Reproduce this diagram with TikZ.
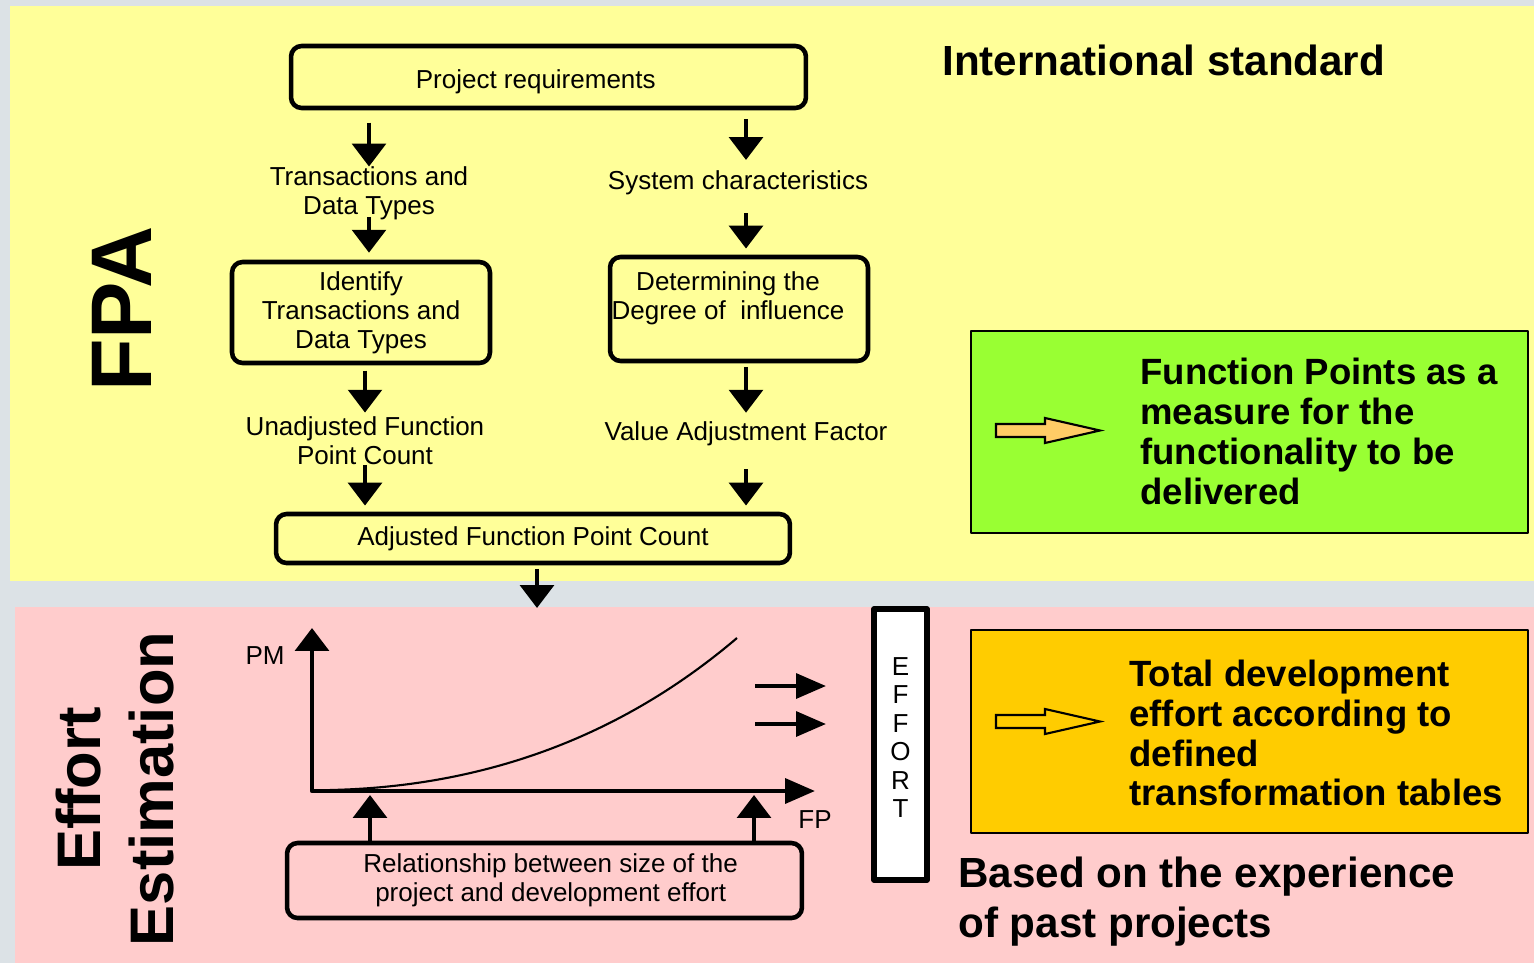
\documentclass[tikz,border=0pt]{standalone}
\usepackage{fontspec}
\setmainfont{Liberation Sans}
\usetikzlibrary{arrows.meta}
\usetikzlibrary{calc}

\begin{document}
\begin{tikzpicture}
	[x=0.02cm,y=-0.02cm,line join=round,
	%Styles
	box/.style={draw,line width=2.6pt,rounded corners=6pt,inner sep=0pt,align=center,font=\fontsize{14.8}{16.5}\selectfont},
	label text/.style={inner sep=0pt,align=center,font=\fontsize{14.8}{16.5}\selectfont},
	flow/.style={line width=2.6pt,-{Triangle[width=19pt,length=13pt]}},
	side flow/.style={line width=2.4pt,-{Triangle[width=14pt,length=17pt]}},
	axes/.style={line width=2.6pt,{Triangle[width=19pt,length=13pt]}-{Triangle[width=14pt,length=17pt]}},
	panel/.style={draw,line width=1.2pt,inner sep=0pt,minimum width=11.14cm},
	big text/.style={inner sep=0pt,align=left,anchor=west,font=\bfseries\fontsize{20.8}{22.7}\selectfont},
	block arrow/.style={draw,line width=1.2pt,line join=miter}
	]

	%Colors
	\definecolor{backgrey}{RGB}{220,226,230}
	\definecolor{fpayellow}{RGB}{255,255,153}
	\definecolor{estpink}{RGB}{255,204,204}
	\definecolor{fpgreen}{RGB}{153,255,51}
	\definecolor{estorange}{RGB}{255,204,0}
	\definecolor{arroworange}{RGB}{255,204,102}

	%Background
	\fill[backgrey] (0,0) rectangle (1534,963);
	\fill[fpayellow] (10,6) rectangle (1534,581);
	\fill[estpink] (15,607) rectangle (1534,963);
	\useasboundingbox (0,0) rectangle (1534,963);

	%The FPA part
	\node[box,minimum width=10.3cm,minimum height=1.24cm,text height=16pt] (req) at (548.5,77) {Project requirements\hspace*{14.5pt}};
	\node[label text] (tdt) at (369,193.5) {Transactions and\\Data Types};
	\node[label text] (sys) at (738,183) {System characteristics};
	\node[box,minimum width=5.16cm,minimum height=2.02cm] (ident) at (361,312.5) {Identify\\Transactions and\\Data Types};
	\node[box,minimum width=5.16cm,minimum height=2.08cm] (degr) at (739,309) {};
	\node[label text] (degrtext) at (728,298) {Determining the\\Degree of~~influence};
	\node[label text] (ufp) at (365,440.5) {Unadjusted Function\\Point Count};
	\node[label text] (vaf) at (746,434) {Value Adjustment Factor};
	\node[box,minimum width=10.28cm,minimum height=0.98cm] (adj) at (533,538.5) {Adjusted Function Point Count};
	\coordinate (effin) at (537,608);

	\draw[flow,shorten <=7pt] (req.south -| tdt) -- (tdt.north);
	\draw[flow,shorten <=-2pt,shorten >=4pt] (tdt.south) -- (tdt.south |- ident.north);
	\draw[flow,shorten <=5pt,shorten >=6pt] (req.south -| vaf) -- (sys.north -| vaf);
	\draw[flow,shorten <=10pt,shorten >=3.5pt] (sys.south -| vaf) -- (degr.north -| vaf);
	\draw[flow,shorten <=3pt,shorten >=2pt] (ident.south -| ufp) -- (ufp.north);
	\draw[flow,shorten <=2pt,shorten >=5pt] (degr.south -| vaf) -- (vaf.north);
	\draw[flow,shorten >=3.5pt] (ufp.south) -- (ufp.south |- adj.north);
	\draw[flow,shorten <=13pt,shorten >=3.5pt] (vaf.south) -- (vaf.south |- adj.north);
	\draw[flow,shorten <=2pt] (adj.south -| effin) -- (effin);

	%The effort estimation part
	\coordinate (origin) at (312,791);
	\coordinate (pmtip) at (312,628);
	\coordinate (fptip) at (815,791);
	\draw[axes] (pmtip) -- (origin) -- (fptip);
	\draw[line width=1.2pt] (330,790) .. controls (520,786) and (650,712) .. (737,638);
	\node[label text] (pm) at (265,656) {PM};
	\node[label text] (fp) at (815,820) {FP};

	\node[box,minimum width=10.3cm,minimum height=1.5cm] (rel) at (544.5,880.5) {\hspace*{7pt}Relationship between size of the\\\hspace*{7pt}project and development effort};
	\coordinate (low) at (370,795);
	\coordinate (high) at (754,795);
	\draw[flow] (rel.north -| low) -- (low);
	\draw[flow] (rel.north -| high) -- (high);

	\node[draw,fill=white,line width=3pt,minimum width=1.06cm,minimum height=5.42cm,inner sep=0pt,align=center,text depth=8pt,font=\fontsize{14.8}{16.2}\selectfont] (effort) at (900.5,744.5) {E\\F\\F\\O\\R\\T};
	\coordinate (in1) at (826,686);
	\coordinate (in2) at (826,724);
	\draw[side flow] (in1) ++(-71,0) -- (in1);
	\draw[side flow] (in2) ++(-71,0) -- (in2);

	%Result panels
	\node[panel,fill=fpgreen,minimum height=4.04cm] (fpbox) at (1249.5,432) {};
	\draw[block arrow,fill=arroworange] (996,424) -- (1045,424) -- (1045,418) -- (1100,430.5) -- (1045,443) -- (1045,437) -- (996,437) -- cycle;
	\node[big text] (fptext) at (1140,431.5) {Function Points as a\\measure for the\\functionality to be\\delivered};

	\node[panel,fill=estorange,minimum height=4.06cm] (effbox) at (1249.5,731.5) {};
	\draw[block arrow,fill=estorange] (996,715) -- (1045,715) -- (1045,709) -- (1100,721.5) -- (1045,734) -- (1045,728) -- (996,728) -- cycle;
	\node[big text] (efftext) at (1129,733) {Total development\\effort according to\\defined\\transformation tables};

	%Titles
	\node[anchor=west,inner sep=0pt,font=\bfseries\fontsize{24}{28.4}\selectfont] (intl) at (942,60) {International standard};
	\node[anchor=west,inner sep=0pt,align=left,font=\bfseries\fontsize{24}{28.4}\selectfont] (past) at (958,902) {Based on the experience\\of past projects};
	\node[rotate=90,inner sep=0pt,font=\bfseries\fontsize{49}{56}\selectfont] (fpa) at (122,309) {FPA};
	\node[rotate=90,inner sep=0pt,align=center,font=\bfseries\fontsize{35}{42}\selectfont] (estim) at (115,789) {Effort\\Estimation};
\end{tikzpicture}
\end{document}
